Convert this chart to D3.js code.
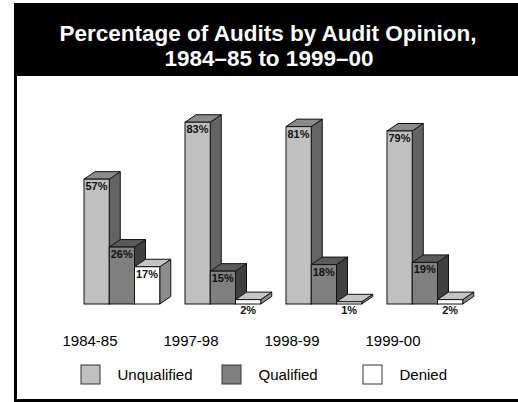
<!DOCTYPE html>
<html>
<head>
<meta charset="utf-8">
<script src="https://cdn.jsdelivr.net/npm/d3@7"></script>
<style>
  html, body { margin: 0; padding: 0; background: #fff; }
  svg { display: block; }
  text { font-family: "Liberation Sans", Arial, sans-serif; }
</style>
</head>
<body>
<svg id="chart" width="518" height="402"></svg>
<script>
const titleLines = ["Percentage of Audits by Audit Opinion,", "1984\u201385 to 1999\u201300"];
const categories = ["1984-85", "1997-98", "1998-99", "1999-00"];
const seriesNames = ["Unqualified", "Qualified", "Denied"];
const unqualified = [57, 83, 81, 79];
const qualified = [26, 15, 18, 19];
const denied = [17, 2, 1, 2];
const seriesValues = [unqualified, qualified, denied];

const faceColors = {
  Unqualified: { front: "#c0c0c0", top: "#8a8a8a", side: "#646464" },
  Qualified:   { front: "#808080", top: "#5a5a5a", side: "#404040" },
  Denied:      { front: "#ffffff", top: "#c4c4c4", side: "#8c8c8c" }
};

const svg = d3.select("#chart");

// frame
svg.append("rect").attr("x", 14).attr("y", 3).attr("width", 504).attr("height", 73).attr("fill", "#000");
svg.append("rect").attr("x", 14).attr("y", 3).attr("width", 3).attr("height", 399).attr("fill", "#000");
svg.append("rect").attr("x", 14).attr("y", 399).attr("width", 504).attr("height", 3).attr("fill", "#000");

// title
svg.append("text").attr("x", 268).attr("y", 40.5).attr("text-anchor", "middle")
  .attr("fill", "#fff").attr("font-weight", "bold").attr("font-size", 22.5).text(titleLines[0]);
svg.append("text").attr("x", 269).attr("y", 65.5).attr("text-anchor", "middle")
  .attr("fill", "#fff").attr("font-weight", "bold").attr("font-size", 22.5).text(titleLines[1]);

const x = d3.scaleBand().domain(categories).range([84, 488])
  .paddingInner(0.25).paddingOuter(0.125).align(0);
const xs = d3.scaleBand().domain(seriesNames).range([0, x.bandwidth()]);
const y = d3.scaleLinear().domain([0, 100]).range([304, 85]);

const dx = 11, dy = -7.5;

const data = [];
categories.forEach((c, i) => {
  seriesNames.forEach((s, j) => {
    data.push({ cat: c, series: s, value: seriesValues[j][i] });
  });
});

const bars = svg.append("g");
const g = bars.selectAll("g.bar").data(data).join("g").attr("class", "bar");

g.each(function(d) {
  const sel = d3.select(this);
  const x0 = x(d.cat) + xs(d.series);
  const w = xs.bandwidth();
  const yt = y(d.value), yb = y(0);
  const col = faceColors[d.series];
  const sw = 1;
  const side = [[x0 + w, yt], [x0 + w + dx, yt + dy], [x0 + w + dx, yb + dy], [x0 + w, yb]];
  const top = [[x0, yt], [x0 + dx, yt + dy], [x0 + w + dx, yt + dy], [x0 + w, yt]];
  const line = d3.line();
  sel.append("path").attr("d", line(side) + "Z").attr("fill", col.side).attr("stroke", "#111").attr("stroke-width", sw);
  sel.append("path").attr("d", line(top) + "Z").attr("fill", col.top).attr("stroke", "#111").attr("stroke-width", sw);
  sel.append("rect").attr("x", x0).attr("y", yt).attr("width", w).attr("height", yb - yt)
    .attr("fill", col.front).attr("stroke", "#111").attr("stroke-width", sw);
  const label = d.value + "%";
  if (yb - yt > 14) {
    sel.append("text").attr("x", x0 + 1.5).attr("y", yt + 11)
      .attr("font-size", 11).attr("font-weight", "bold").attr("fill", "#111").text(label);
  } else {
    sel.append("text").attr("x", x0 + w / 2).attr("y", yb + 9.5).attr("text-anchor", "middle")
      .attr("font-size", 11).attr("font-weight", "bold").attr("fill", "#111").text(label);
  }
});

// category labels
svg.append("g").selectAll("text").data(categories).join("text")
  .attr("x", d => x(d) + 6).attr("y", 346).attr("text-anchor", "middle")
  .attr("font-size", 15).attr("fill", "#000").text(d => d);

// legend
const legendX = d3.scalePoint().domain(seriesNames).range([81, 363]);
const lg = svg.append("g").selectAll("g").data(seriesNames).join("g");
lg.append("rect").attr("x", d => legendX(d)).attr("y", 365).attr("width", 19).attr("height", 19)
  .attr("fill", d => faceColors[d].front).attr("stroke", "#333").attr("stroke-width", 1);
lg.append("text").attr("x", d => legendX(d) + 36.5).attr("y", 380)
  .attr("font-size", 15).attr("fill", "#000").text(d => d);
</script>
</body>
</html>
